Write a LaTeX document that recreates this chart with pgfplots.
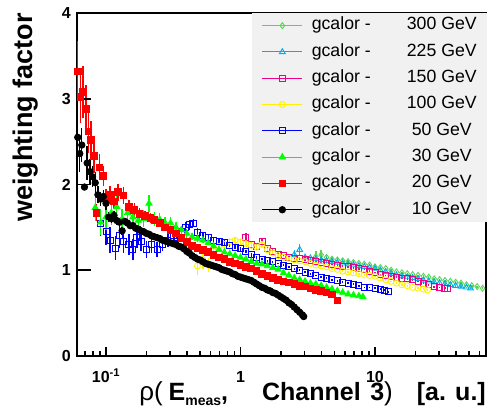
\documentclass[border=0pt]{standalone}
\usepackage{fontspec}
\setmainfont{Liberation Sans}
\usepackage{pgfplots}
\pgfplotsset{compat=1.18}
\definecolor{rootgreen}{RGB}{89,212,84}
\definecolor{legendgray}{RGB}{241,241,241}
\pgfplotsset{
  ser/.style={only marks, line width=0.9pt, mark options={solid},
    error bars/y dir=both, error bars/y explicit, error bars/error mark=none,
    error bars/error bar style={line width=1.4pt}},
}
\begin{document}
\begin{tikzpicture}
\begin{axis}[
  scale only axis, width=409pt, height=343pt,
  xmode=log, xmin=0.06087, xmax=66.9, ymin=0, ymax=4,
  axis line style={line width=1.8pt},
  tick align=inside, xtick pos=left, ytick pos=left,
  xtick={0.1,1,10}, xticklabels={10\textsuperscript{-1},1,10},
  minor xtick={0.07,0.08,0.09,0.2,0.3,0.4,0.5,0.6,0.7,0.8,0.9,2,3,4,5,6,7,8,9,20,30,40,50,60},
  major tick length=9pt, minor tick length=4.5pt,
  tick style={black, line width=1.6pt},
  ytick={0,1,2,3,4}, yticklabels={0,1,2,3,4},
  ytick style={draw=none},
  ticklabel style={font=\bfseries\fontsize{16}{16}\selectfont},
  xticklabel style={anchor=base, yshift=-27pt},
  yticklabel style={anchor=east, inner sep=0pt, xshift=-6pt},
  xlabel={{\fontsize{26}{26}\selectfont\mdseries ρ(}\hspace{6pt}E\raisebox{-5pt}{\fontsize{14}{14}\selectfont meas},\hspace{34pt}Channel\hspace{9.5pt}3{\fontsize{26}{26}\selectfont\mdseries )}\hspace{24pt}[a. u.]},
  xlabel style={at={(axis description cs:1,-0.1283)}, anchor=base east, inner sep=0pt, font=\bfseries\fontsize{25}{25}\selectfont},
  ylabel={weighting factor},
  ylabel style={at={(axis description cs:-0.1076,1)}, anchor=base east, inner sep=0pt, font=\bfseries\fontsize{27}{27}\selectfont},
  legend style={at={(rel axis cs:1,1)}, anchor=north east, xshift=1pt,
    fill=legendgray, draw=none, inner xsep=10pt, inner ysep=4.3pt,
    row sep=10pt, column sep=9pt, font=\fontsize{17.7}{17.7}\selectfont,
    nodes={inner sep=0pt, text height=12.5pt, text depth=3.8pt}, cells={anchor=west}},
  legend image code/.code={\draw[#1] (0pt,0pt) -- (40pt,0pt); \draw[#1] plot coordinates {(20pt,0pt)};},
]

% 300 GeV
\addplot[ser, color=rootgreen, mark=diamond, mark size=3pt] table[x=x,y=y,y error=e] {
x y e
3.631 1.16 0.06
3.981 1.18 0.06
4.365 1.15 0.04
4.786 1.13 0.03
5.248 1.12 0.02
5.754 1.11 0.02
6.310 1.10 0.02
6.918 1.09 0.02
7.586 1.08 0.01
8.318 1.07 0.01
9.120 1.06 0.01
10.00 1.04 0.01
10.96 1.03 0.01
12.02 1.02 0.01
13.18 1.00 0.01
14.45 0.98 0.01
15.85 0.97 0.01
17.38 0.96 0.01
19.05 0.95 0.01
20.89 0.94 0.01
22.91 0.93 0.01
25.12 0.92 0.01
27.54 0.90 0.01
30.20 0.89 0.01
33.11 0.88 0.01
36.31 0.87 0.01
39.81 0.86 0.01
43.65 0.85 0.01
47.86 0.83 0.01
52.48 0.82 0.01
57.54 0.81 0.01
63.10 0.79 0.01
};
\addlegendentry{\makebox[130pt][l]{gcalor -}\makebox[0pt]{300 GeV}\hspace*{35pt}}

% 225 GeV
\addplot[ser, color=cyan, mark=triangle, mark size=3.3pt] table[x=x,y=y,y error=e] {
x y e
2.512 1.18 0.06
2.754 1.24 0.07
3.020 1.15 0.03
3.311 1.14 0.02
3.631 1.13 0.02
3.981 1.12 0.02
4.365 1.11 0.02
4.786 1.10 0.02
5.248 1.09 0.01
5.754 1.08 0.01
6.310 1.07 0.01
6.918 1.06 0.01
7.586 1.05 0.01
8.318 1.04 0.01
9.120 1.03 0.01
10.00 1.02 0.01
10.96 1.00 0.01
12.02 0.98 0.01
13.18 0.96 0.01
14.45 0.94 0.01
15.85 0.93 0.01
17.38 0.92 0.01
19.05 0.91 0.01
20.89 0.90 0.01
22.91 0.88 0.01
25.12 0.87 0.01
27.54 0.86 0.01
30.20 0.85 0.01
33.11 0.84 0.01
36.31 0.83 0.01
39.81 0.82 0.01
43.65 0.81 0.01
47.86 0.80 0.01
51.29 0.79 0.01
};
\addlegendentry{\makebox[130pt][l]{gcalor -}\makebox[0pt]{225 GeV}\hspace*{35pt}}

% 150 GeV
\addplot[ser, color=magenta, mark=square, mark size=3pt] table[x=x,y=y,y error=e] {
x y e
1.096 1.38 0.06
1.202 1.30 0.04
1.318 1.28 0.04
1.445 1.33 0.05
1.585 1.25 0.03
1.738 1.22 0.03
1.905 1.19 0.02
2.089 1.17 0.02
2.291 1.15 0.02
2.512 1.14 0.02
2.754 1.14 0.02
3.020 1.13 0.02
3.311 1.11 0.01
3.631 1.10 0.01
3.981 1.09 0.01
4.365 1.08 0.01
4.786 1.07 0.01
5.248 1.06 0.01
5.754 1.05 0.01
6.310 1.04 0.01
6.918 1.03 0.01
7.586 1.02 0.01
8.318 1.01 0.01
9.120 0.99 0.01
10.00 0.97 0.01
10.96 0.95 0.01
12.02 0.94 0.01
13.18 0.93 0.01
14.45 0.92 0.01
15.85 0.91 0.01
17.38 0.90 0.01
19.05 0.89 0.01
20.89 0.87 0.01
22.91 0.85 0.01
25.12 0.83 0.01
27.54 0.81 0.01
30.20 0.80 0.01
33.11 0.79 0.01
34.67 0.79 0.01
};
\addlegendentry{\makebox[130pt][l]{gcalor -}\makebox[0pt]{150 GeV}\hspace*{35pt}}

% 100 GeV
\addplot[ser, color=yellow, mark=o, mark size=3pt] table[x=x,y=y,y error=e] {
x y e
0.4786 1.05 0.10
0.5248 1.12 0.10
0.5754 1.06 0.08
0.6310 1.22 0.07
0.6918 1.28 0.06
0.7586 1.30 0.05
0.8318 1.33 0.05
0.9120 1.35 0.04
1.000 1.33 0.04
1.096 1.31 0.03
1.202 1.29 0.03
1.318 1.27 0.03
1.445 1.30 0.03
1.585 1.24 0.02
1.738 1.20 0.02
1.905 1.17 0.02
2.089 1.15 0.02
2.291 1.14 0.02
2.512 1.12 0.01
2.754 1.11 0.01
3.020 1.10 0.01
3.311 1.08 0.01
3.631 1.06 0.01
3.981 1.05 0.01
4.365 1.04 0.01
4.786 1.02 0.01
5.248 1.01 0.01
5.754 0.99 0.01
6.310 0.98 0.01
6.918 0.97 0.01
7.586 0.96 0.01
8.318 0.95 0.01
9.120 0.94 0.01
10.00 0.93 0.01
10.96 0.91 0.01
12.02 0.89 0.01
13.18 0.87 0.01
14.45 0.85 0.01
15.85 0.83 0.01
17.38 0.82 0.01
19.05 0.80 0.01
20.89 0.79 0.01
22.91 0.78 0.01
24.55 0.77 0.01
};
\addlegendentry{\makebox[130pt][l]{gcalor -}\makebox[0pt]{100 GeV}\hspace*{35pt}}

% 50 GeV
\addplot[ser, color=blue, mark=square, mark size=3pt] table[x=x,y=y,y error=e] {
x y e
0.09120 1.55 0.15
0.1000 1.45 0.15
0.1072 1.35 0.15
0.1175 1.26 0.14
0.1259 1.40 0.14
0.1349 1.33 0.13
0.1479 1.30 0.12
0.1585 1.24 0.12
0.1698 1.38 0.12
0.1820 1.33 0.11
0.1995 1.24 0.10
0.2188 1.30 0.10
0.2399 1.24 0.09
0.2630 1.30 0.08
0.2884 1.35 0.08
0.3162 1.40 0.07
0.3388 1.38 0.07
0.3631 1.45 0.06
0.3890 1.50 0.06
0.4169 1.53 0.06
0.4467 1.55 0.05
0.4786 1.44 0.05
0.5248 1.41 0.04
0.5754 1.38 0.04
0.6310 1.35 0.03
0.6918 1.33 0.03
0.7586 1.32 0.03
0.8318 1.29 0.02
0.9120 1.27 0.02
1.000 1.25 0.02
1.096 1.22 0.02
1.202 1.18 0.02
1.318 1.15 0.02
1.445 1.13 0.01
1.585 1.11 0.01
1.738 1.10 0.01
1.905 1.08 0.01
2.089 1.06 0.01
2.291 1.04 0.01
2.512 1.02 0.01
2.754 1.00 0.01
3.020 0.98 0.01
3.311 0.96 0.01
3.631 0.94 0.01
3.981 0.92 0.01
4.365 0.91 0.01
4.786 0.89 0.01
5.248 0.88 0.01
5.754 0.86 0.01
6.310 0.85 0.01
6.918 0.84 0.01
7.586 0.82 0.01
8.318 0.80 0.01
9.120 0.80 0.01
10.00 0.79 0.01
10.96 0.78 0.01
11.75 0.77 0.01
12.59 0.75 0.01
};
\addlegendentry{\makebox[130pt][l]{gcalor -}\makebox[0pt]{50 GeV}\hspace*{35pt}}

% 30 GeV
\addplot[ser, color=green, mark=triangle*, mark size=3.5pt] table[x=x,y=y,y error=e] {
x y e
0.08318 1.73 0.15
0.09120 1.56 0.15
0.1000 1.62 0.15
0.1096 1.67 0.14
0.1202 1.74 0.14
0.1318 1.60 0.12
0.1445 1.67 0.12
0.1585 1.62 0.10
0.1738 1.58 0.10
0.1905 1.60 0.10
0.2089 1.78 0.10
0.2291 1.60 0.08
0.2512 1.59 0.08
0.2754 1.55 0.07
0.3020 1.55 0.07
0.3311 1.50 0.06
0.3631 1.47 0.05
0.3981 1.43 0.05
0.4365 1.39 0.04
0.4786 1.37 0.04
0.5248 1.35 0.03
0.5754 1.32 0.03
0.6310 1.28 0.03
0.6918 1.24 0.02
0.7586 1.21 0.02
0.8318 1.19 0.02
0.9120 1.17 0.02
1.000 1.15 0.01
1.096 1.13 0.01
1.202 1.10 0.01
1.318 1.08 0.01
1.445 1.07 0.01
1.585 1.05 0.01
1.738 1.03 0.01
1.905 1.01 0.01
2.089 0.97 0.01
2.291 0.94 0.01
2.512 0.91 0.01
2.754 0.89 0.01
3.020 0.87 0.01
3.311 0.85 0.01
3.631 0.84 0.01
3.981 0.82 0.01
4.365 0.80 0.01
4.786 0.78 0.01
5.248 0.76 0.01
5.754 0.74 0.01
6.310 0.72 0.01
6.918 0.71 0.01
7.586 0.70 0.01
8.128 0.69 0.01
};
\addlegendentry{\makebox[130pt][l]{gcalor -}\makebox[0pt]{30 GeV}\hspace*{35pt}}

% 20 GeV
\addplot[ser, color=red, mark=square*, mark size=3.3pt] table[x=x,y=y,y error=e] {
x y e
0.06166 3.32 0.35
0.06457 3.02 0.30
0.06761 3.08 0.30
0.07079 2.88 0.28
0.07413 2.62 0.25
0.07762 2.52 0.22
0.08128 2.33 0.20
0.08511 1.67 0.10
0.08913 2.20 0.15
0.09550 2.10 0.12
0.1000 1.85 0.10
0.1072 1.88 0.10
0.1148 1.80 0.08
0.1230 1.91 0.10
0.1349 1.87 0.10
0.1479 1.74 0.08
0.1622 1.70 0.08
0.1778 1.66 0.07
0.1950 1.63 0.06
0.2138 1.61 0.06
0.2291 1.59 0.05
0.2512 1.55 0.05
0.2754 1.50 0.04
0.3020 1.47 0.04
0.3311 1.43 0.04
0.3631 1.38 0.03
0.3981 1.33 0.03
0.4365 1.28 0.03
0.4786 1.26 0.03
0.5248 1.24 0.02
0.5754 1.21 0.02
0.6310 1.18 0.02
0.6918 1.15 0.02
0.7586 1.13 0.02
0.8318 1.10 0.02
0.9120 1.08 0.02
1.000 1.06 0.02
1.096 1.04 0.01
1.202 1.02 0.01
1.318 0.99 0.01
1.445 0.96 0.01
1.585 0.93 0.01
1.738 0.91 0.01
1.905 0.89 0.01
2.089 0.87 0.01
2.291 0.86 0.01
2.512 0.84 0.01
2.754 0.82 0.01
3.020 0.81 0.01
3.311 0.79 0.01
3.631 0.77 0.01
3.981 0.76 0.01
4.365 0.74 0.01
4.786 0.72 0.01
5.248 0.65 0.01
};
\addlegendentry{\makebox[130pt][l]{gcalor -}\makebox[0pt]{20 GeV}\hspace*{35pt}}

% 10 GeV
\addplot[ser, color=black, mark=*, mark size=3.2pt] table[x=x,y=y,y error=e] {
x y e
0.06166 2.55 0.20
0.06383 2.36 0.22
0.06607 2.46 0.20
0.06918 1.97 0.04
0.07244 2.25 0.20
0.07586 2.15 0.15
0.07943 2.09 0.12
0.08318 2.02 0.12
0.08710 1.88 0.10
0.09120 1.83 0.08
0.09550 1.86 0.08
0.1000 1.78 0.08
0.1047 1.62 0.06
0.1096 1.60 0.05
0.1148 1.64 0.05
0.1202 1.58 0.05
0.1259 1.56 0.05
0.1318 1.46 0.05
0.1380 1.57 0.04
0.1445 1.55 0.04
0.1514 1.52 0.04
0.1585 1.52 0.04
0.1660 1.49 0.04
0.1738 1.48 0.03
0.1820 1.46 0.03
0.1905 1.45 0.03
0.1995 1.43 0.03
0.2089 1.42 0.03
0.2188 1.40 0.03
0.2291 1.39 0.03
0.2399 1.38 0.02
0.2512 1.37 0.02
0.2630 1.35 0.02
0.2754 1.34 0.02
0.2884 1.33 0.02
0.3020 1.32 0.02
0.3162 1.31 0.02
0.3311 1.30 0.02
0.3467 1.28 0.02
0.3631 1.27 0.02
0.3802 1.25 0.02
0.3981 1.22 0.02
0.4169 1.20 0.02
0.4365 1.17 0.01
0.4571 1.15 0.01
0.4786 1.13 0.01
0.5012 1.12 0.01
0.5248 1.10 0.01
0.5495 1.08 0.01
0.5754 1.07 0.01
0.6026 1.06 0.01
0.6310 1.05 0.01
0.6607 1.04 0.01
0.6918 1.03 0.01
0.7244 1.01 0.01
0.7586 1.00 0.01
0.7943 0.99 0.01
0.8318 0.98 0.01
0.8710 0.96 0.01
0.9120 0.95 0.01
0.9550 0.93 0.01
1.000 0.92 0.01
1.047 0.91 0.01
1.096 0.90 0.01
1.148 0.89 0.01
1.202 0.88 0.01
1.259 0.86 0.01
1.318 0.84 0.01
1.380 0.82 0.01
1.445 0.80 0.01
1.514 0.79 0.01
1.585 0.77 0.01
1.660 0.76 0.01
1.738 0.74 0.01
1.820 0.73 0.01
1.905 0.71 0.01
1.995 0.69 0.01
2.089 0.67 0.01
2.188 0.65 0.01
2.291 0.62 0.01
2.399 0.60 0.01
2.512 0.57 0.01
2.630 0.54 0.01
2.754 0.51 0.01
2.884 0.48 0.01
2.951 0.46 0.01
};
\addlegendentry{\makebox[130pt][l]{gcalor -}\makebox[0pt]{10 GeV}\hspace*{35pt}}

% y axis ticks (drawn longer than the x ticks)
\draw[line width=1.6pt] (rel axis cs:0,0.25) -- ++(14pt,0pt);
\draw[line width=1.6pt] (rel axis cs:0,0.5) -- ++(14pt,0pt);
\draw[line width=1.6pt] (rel axis cs:0,0.75) -- ++(14pt,0pt);
\draw[line width=1.6pt] (rel axis cs:0,1) -- ++(14pt,0pt);
\end{axis}
\pgfresetboundingbox
\path[use as bounding box] ([shift={(-77pt,-56pt)}]current axis.south west) rectangle ([shift={(2pt,13pt)}]current axis.north east);
\end{tikzpicture}
\end{document}
